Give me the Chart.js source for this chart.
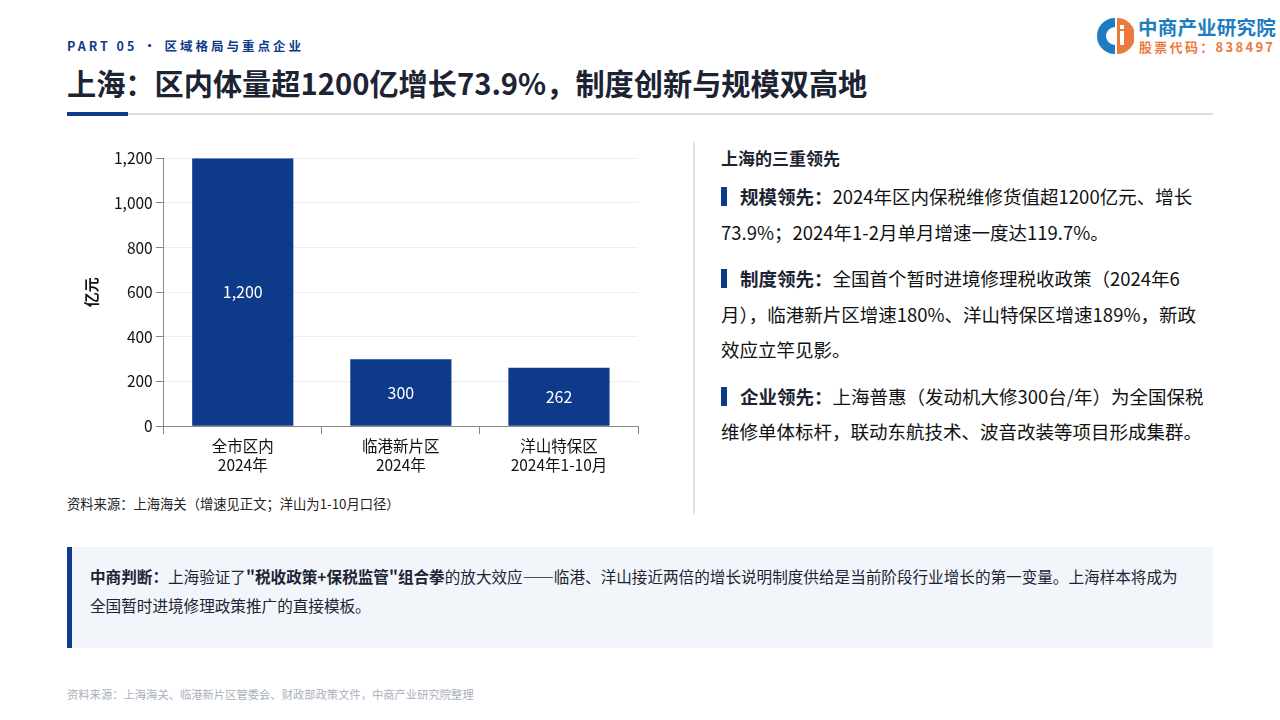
<!DOCTYPE html>
<html lang="zh-CN">
<head>
<meta charset="utf-8">
<title>上海：区内体量超1200亿增长73.9%</title>
<script src="https://cdn.jsdelivr.net/npm/chart.js@4/dist/chart.umd.min.js"></script>
<style>
  * { margin: 0; padding: 0; box-sizing: border-box; }
  body {
    width: 1280px; height: 720px; overflow: hidden; position: relative;
    background: #fff; color: #1c2433;
    font-family: "Noto Sans CJK SC", "Noto Sans", sans-serif;
  }
  .part { position: absolute; left: 67px; top: 36px; font-size: 12.5px; font-weight: 700; letter-spacing: 3px; color: #0e3a8a; }
  .title { position: absolute; left: 67px; top: 61px; font-size: 29.2px; font-weight: 700; color: #1c2433; letter-spacing: 0; white-space: nowrap; }
  .rule { position: absolute; left: 67px; top: 113px; width: 1146px; height: 2px; background: #d6dbe4; }
  .rule-accent { position: absolute; left: 67px; top: 112px; width: 61px; height: 4px; background: #0e3a8a; }
  .logo { position: absolute; left: 1096px; top: 16px; width: 184px; height: 40px; }
  .logo svg { position: absolute; left: 0; top: 1px; }
  .logo .name { position: absolute; left: 42px; top: -4px; font-size: 19.5px; font-weight: 700; color: #1d7dc0; white-space: nowrap; letter-spacing: 0.2px; }
  .logo .code { position: absolute; left: 43px; top: 21px; font-size: 13px; font-weight: 700; color: #ec7a3c; white-space: nowrap; letter-spacing: 2.3px; }
  .chart-wrap { position: absolute; left: 68px; top: 146px; width: 576px; height: 331px; }
  .src { position: absolute; left: 67px; top: 494px; font-size: 13.3px; color: #222; white-space: nowrap; }
  .divider { position: absolute; left: 693px; top: 142px; width: 2px; height: 372px; background: #dde1e8; }
  .side { position: absolute; left: 721px; top: 145px; width: 491px; }
  .side h3 { font-size: 17px; font-weight: 700; color: #1c2433; margin-bottom: 9px; }
  .side p { font-size: 18.5px; line-height: 35.5px; color: #111; margin-bottom: 11px; }
  .side p .mk { display: inline-block; width: 6px; height: 19px; background: #0e3a8a; vertical-align: -2px; margin-right: 13px; }
  .side p b { color: #1c2433; }
  .box { position: absolute; left: 67px; top: 547px; width: 1146px; height: 101px; background: #f2f6fb; border-left: 5px solid #0e3a8a; padding: 15px 26px 0 18px; font-size: 15.6px; line-height: 29px; color: #1c2433; }
  .foot { position: absolute; left: 67px; top: 686px; font-size: 11.3px; color: #a9b0bd; white-space: nowrap; }
</style>
</head>
<body>
  <div class="part">PART 05 · 区域格局与重点企业</div>
  <div class="title">上海：区内体量超1200亿增长73.9%，制度创新与规模双高地</div>
  <div class="rule"></div>
  <div class="rule-accent"></div>

  <div class="logo">
    <svg width="38" height="38" viewBox="0 0 38 38">
      <path d="M19 1 A18 18 0 0 0 19 37 L19 28 A9 9 0 0 1 19 10 Z" fill="#1d7dc0"/>
      <path d="M21 1 A18 18 0 0 1 21 37 Z" fill="#ec7a3c"/>
      <rect x="24" y="14" width="4" height="14" fill="#fff"/>
      <rect x="24" y="8" width="4" height="4" fill="#fff"/>
    </svg>
    <div class="name">中商产业研究院</div>
    <div class="code">股票代码：838497</div>
  </div>

  <div class="chart-wrap"><canvas id="bar-chart"></canvas></div>
  <div class="src">资料来源：上海海关（增速见正文；洋山为1-10月口径）</div>

  <div class="divider"></div>

  <div class="side">
    <h3>上海的三重领先</h3>
    <p><span class="mk"></span><b>规模领先：</b>2024年区内保税维修货值超1200亿元、增长73.9%；2024年1-2月单月增速一度达119.7%。</p>
    <p><span class="mk"></span><b>制度领先：</b>全国首个暂时进境修理税收政策（2024年6月），临港新片区增速180%、洋山特保区增速189%，新政效应立竿见影。</p>
    <p><span class="mk"></span><b>企业领先：</b>上海普惠（发动机大修300台/年）为全国保税维修单体标杆，联动东航技术、波音改装等项目形成集群。</p>
  </div>

  <div class="box"><b>中商判断：</b>上海验证了<b>"税收政策+保税监管"组合拳</b>的放大效应——临港、洋山接近两倍的增长说明制度供给是当前阶段行业增长的第一变量。上海样本将成为全国暂时进境修理政策推广的直接模板。</div>

  <div class="foot">资料来源：上海海关、临港新片区管委会、财政部政策文件，中商产业研究院整理</div>

<script>
const regions = ['全市区内', '临港新片区', '洋山特保区'];
const periods = ['2024年', '2024年', '2024年1-10月'];
const values = [1200, 300, 262];
const yMax = 1200;
const yStep = 200;

const FONT = '"Noto Sans CJK SC", "Noto Sans", sans-serif';

// labels drawn in the middle of each bar
const barLabels = {
  id: 'barLabels',
  afterDatasetsDraw(chart) {
    const ctx = chart.ctx;
    const meta = chart.getDatasetMeta(0);
    ctx.save();
    ctx.fillStyle = '#ffffff';
    ctx.font = '16px ' + FONT;
    ctx.textAlign = 'center';
    ctx.textBaseline = 'middle';
    meta.data.forEach((bar, i) => {
      const { x, y, base } = bar.getProps(['x', 'y', 'base'], true);
      ctx.fillText(values[i].toLocaleString('en-US'), x, (y + base) / 2);
    });
    ctx.restore();
  }
};

new Chart(document.getElementById('bar-chart'), {
  type: 'bar',
  data: {
    labels: regions.map((r, i) => [r, periods[i]]),
    datasets: [{
      data: values,
      backgroundColor: '#0e3a8a',
      barPercentage: 0.8,
      categoryPercentage: 0.8
    }]
  },
  options: {
    responsive: true,
    maintainAspectRatio: false,
    animation: false,
    layout: { padding: { top: 4, right: 6, left: 14 } },
    plugins: { legend: { display: false }, tooltip: { enabled: false } },
    scales: {
      x: {
        grid: { display: true, drawOnChartArea: false, color: '#888', tickLength: 8, offset: true },
        border: { color: '#888', width: 1 },
        ticks: { color: '#111', font: { family: FONT, size: 15.5, lineHeight: 1.25 }, padding: 2 }
      },
      y: {
        min: 0,
        max: yMax,
        ticks: {
          stepSize: yStep,
          color: '#111',
          font: { family: FONT, size: 15.5 },
          padding: 3,
          callback: (v) => v.toLocaleString('en-US')
        },
        grid: { color: '#ececf2', tickColor: '#888', tickLength: 8 },
        border: { color: '#888', width: 1 },
        title: { display: true, text: '亿元', color: '#111', font: { family: FONT, size: 15, weight: 'bold' }, padding: { top: 0, bottom: 11 } }
      }
    }
  },
  plugins: [barLabels]
});
</script>
</body>
</html>
